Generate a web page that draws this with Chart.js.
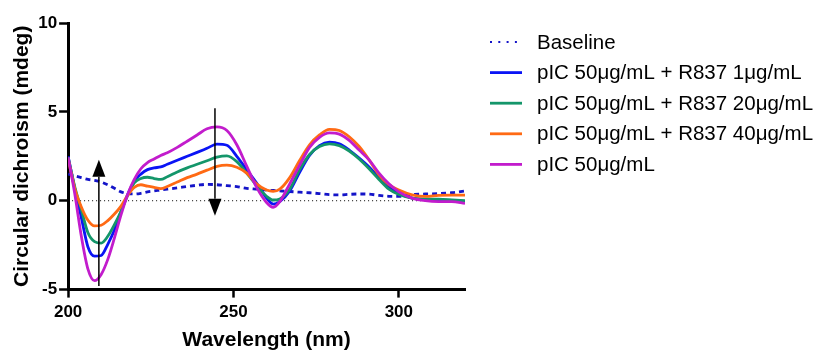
<!DOCTYPE html>
<html>
<head>
<meta charset="utf-8">
<script src="https://cdn.jsdelivr.net/npm/chart.js@4.4.1/dist/chart.umd.min.js"></script>
<style>
  html, body { margin: 0; padding: 0; background: #fff; }
  #wrap { width: 829px; height: 351px; }
</style>
</head>
<body>
<div id="wrap"><canvas id="cd"></canvas></div>
<script>
// CD spectra, wavelength in nm, ellipticity in mdeg
const wavelength = [200, 202, 204, 206, 208, 210, 212, 214, 216, 218, 220, 222, 224, 226, 228, 230,
  233, 236, 239, 242, 245, 248, 251, 254, 257, 260, 262, 264,
  267, 270, 273, 276, 279, 282, 285, 288, 291, 294, 297, 300, 304, 308, 312, 316, 320];

const baseline = [1.5, 1.4, 1.3, 1.2, 1.15, 1.05, 0.9, 0.7, 0.5, 0.4, 0.38, 0.42, 0.5, 0.55, 0.6, 0.65,
  0.72, 0.8, 0.87, 0.92, 0.9, 0.85, 0.8, 0.7, 0.65, 0.6, 0.58, 0.55,
  0.52, 0.48, 0.45, 0.4, 0.34, 0.33, 0.36, 0.38, 0.37, 0.3, 0.25, 0.24, 0.35, 0.38, 0.4, 0.45, 0.55];

const r837_1 = [2.5, 0.7, -0.95, -2.6, -3.12, -3.08, -2.45, -1.65, -0.6, 0.35, 1.1, 1.5, 1.75, 1.85, 1.9, 2.05,
  2.28, 2.5, 2.72, 2.95, 3.18, 3.12, 2.5, 1.75, 1.0, 0.15, -0.19, -0.05,
  0.55, 1.6, 2.55, 3.1, 3.29, 3.2, 2.85, 2.4, 1.9, 1.3, 0.8, 0.42, 0.15, 0.07, 0.04, 0.0, -0.1];

const r837_20 = [2.44, 0.8, -0.5, -1.8, -2.3, -2.38, -2.0, -1.35, -0.6, 0.3, 1.0, 1.25, 1.32, 1.25, 1.2, 1.35,
  1.62, 1.85, 2.05, 2.25, 2.45, 2.52, 2.2, 1.55, 0.85, 0.25, 0.04, 0.1,
  0.65, 1.75, 2.6, 3.05, 3.2, 3.1, 2.8, 2.35, 1.8, 1.2, 0.65, 0.35, 0.15, 0.1, 0.09, 0.05, 0.0];

const r837_40 = [2.35, 0.7, -0.35, -1.1, -1.42, -1.38, -1.12, -0.75, -0.3, 0.3, 0.75, 0.9, 0.82, 0.75, 0.68, 0.8,
  1.05, 1.3, 1.5, 1.72, 1.93, 2.0, 1.88, 1.55, 0.95, 0.6, 0.53, 0.65,
  1.3, 2.26, 3.15, 3.7, 4.02, 3.95, 3.6, 3.05, 2.3, 1.45, 0.9, 0.6, 0.33, 0.24, 0.3, 0.32, 0.32];

const picOnly = [2.45, 0.4, -2.0, -3.85, -4.5, -4.15, -3.3, -2.1, -0.8, 0.35, 1.2, 1.8, 2.15, 2.35, 2.55, 2.7,
  3.0, 3.35, 3.7, 4.05, 4.15, 3.95, 3.15, 1.95, 0.75, -0.1, -0.37, -0.05,
  0.95, 2.0, 3.0, 3.57, 3.82, 3.75, 3.4, 2.85, 2.3, 1.55, 0.95, 0.5, 0.15, 0.0, -0.05, -0.05, -0.15];

const seriesNames = [
  'Baseline',
  'pIC 50\u03bcg/mL + R837 1\u03bcg/mL',
  'pIC 50\u03bcg/mL + R837 20\u03bcg/mL',
  'pIC 50\u03bcg/mL + R837 40\u03bcg/mL',
  'pIC 50\u03bcg/mL'
];

const xTicks = [200, 250, 300];
const yTicks = [-5, 0, 5, 10];

// trend arrows: wavelength, start value, tip value
const arrowX = [209.3, 244.4];
const arrowFrom = [-4.8, 5.2];
const arrowTo = [2.3, -0.85];

const FONT = '"Liberation Sans", Arial, Helvetica, sans-serif';
Chart.defaults.font.family = FONT;
Chart.defaults.color = '#000';

const toPoints = ys => ys.map((y, i) => ({ x: wavelength[i], y }));

const curve = (label, data, color, order) => ({
  label,
  data: toPoints(data),
  borderColor: color,
  backgroundColor: color,
  borderWidth: 2.8,
  pointRadius: 0,
  tension: 0.4,
  cubicInterpolationMode: 'monotone',
  fill: false,
  order
});

const datasets = [
  Object.assign(curve(seriesNames[0], baseline, '#1414c8', 5), { borderDash: [5, 4], legendDash: [2, 6.3], legendWidth: 2 }),
  curve(seriesNames[1], r837_1, '#0a14f5', 3),
  curve(seriesNames[2], r837_20, '#14966a', 2),
  curve(seriesNames[3], r837_40, '#ff6a14', 1),
  curve(seriesNames[4], picOnly, '#c21ccc', 0),
  {
    label: 'zero',
    data: [{ x: 200, y: 0 }, { x: 320, y: 0 }],
    borderColor: '#000',
    borderWidth: 1,
    borderDash: [1, 3],
    pointRadius: 0,
    order: 6,
    noLegend: true
  }
];

// legend drawn beside the plot: a short line sample per series
const sideLegend = {
  id: 'sideLegend',
  afterDraw(chart, args, opts) {
    const ctx = chart.ctx;
    ctx.save();
    ctx.font = opts.font;
    ctx.textBaseline = 'middle';
    ctx.fillStyle = '#000';
    let row = 0;
    chart.data.datasets.forEach(ds => {
      if (ds.noLegend) return;
      const y = opts.top + row * opts.rowGap;
      ctx.beginPath();
      ctx.strokeStyle = ds.borderColor;
      ctx.lineWidth = ds.legendWidth || ds.borderWidth;
      ctx.setLineDash(ds.legendDash || []);
      ctx.moveTo(opts.left, y);
      ctx.lineTo(opts.left + opts.lineLen, y);
      ctx.stroke();
      ctx.setLineDash([]);
      ctx.fillText(ds.label, opts.textLeft, y + 1);
      row++;
    });
    ctx.restore();
  }
};

// vertical arrows marking the trend with increasing R837
const trendArrows = {
  id: 'trendArrows',
  afterDatasetsDraw(chart) {
    const { ctx, scales: { x, y } } = chart;
    ctx.save();
    ctx.strokeStyle = '#000';
    ctx.fillStyle = '#000';
    ctx.lineWidth = 1.5;
    arrowX.forEach((wl, i) => {
      const px = x.getPixelForValue(wl);
      const y0 = y.getPixelForValue(arrowFrom[i]);
      const y1 = y.getPixelForValue(arrowTo[i]);
      const dir = y1 < y0 ? 1 : -1;
      const headLen = 17, halfW = 6.5;
      ctx.beginPath();
      ctx.moveTo(px, y0);
      ctx.lineTo(px, y1 + dir * headLen);
      ctx.stroke();
      ctx.beginPath();
      ctx.moveTo(px, y1);
      ctx.lineTo(px - halfW, y1 + dir * headLen);
      ctx.lineTo(px + halfW, y1 + dir * headLen);
      ctx.closePath();
      ctx.fill();
    });
    ctx.restore();
  }
};

new Chart(document.getElementById('cd'), {
  type: 'line',
  data: { datasets },
  options: {
    responsive: true,
    maintainAspectRatio: false,
    animation: false,
    layout: { padding: { left: 4, right: 364, top: 23, bottom: 0 } },
    plugins: {
      legend: { display: false },
      tooltip: { enabled: false },
      sideLegend: { left: 490, lineLen: 32, textLeft: 537, top: 42, rowGap: 30.6, font: '20.5px ' + FONT }
    },
    scales: {
      x: {
        type: 'linear',
        min: 200,
        max: 320,
        afterBuildTicks: s => { s.ticks = xTicks.map(v => ({ value: v })); },
        ticks: { font: { size: 17, weight: 'bold' }, padding: 5, color: '#000' },
        grid: { drawOnChartArea: false, drawTicks: true, tickLength: 8, tickWidth: 2.5, tickColor: '#000' },
        border: { display: true, width: 3, color: '#000' },
        title: { display: true, text: 'Wavelength (nm)', font: { size: 21, weight: 'bold', lineHeight: 1 }, color: '#000', padding: { top: 2, bottom: 0 } }
      },
      y: {
        min: -5,
        max: 10,
        afterBuildTicks: s => { s.ticks = yTicks.map(v => ({ value: v })); },
        ticks: { font: { size: 17, weight: 'bold' }, padding: 2, color: '#000' },
        grid: { drawOnChartArea: false, drawTicks: true, tickLength: 9, tickWidth: 2.5, tickColor: '#000' },
        border: { display: true, width: 3, color: '#000' },
        title: { display: true, text: 'Circular dichroism (mdeg)', font: { size: 21, weight: 'bold' }, color: '#000', padding: { top: 6, bottom: 1 } }
      }
    }
  },
  plugins: [sideLegend, trendArrows]
});
</script>
</body>
</html>
